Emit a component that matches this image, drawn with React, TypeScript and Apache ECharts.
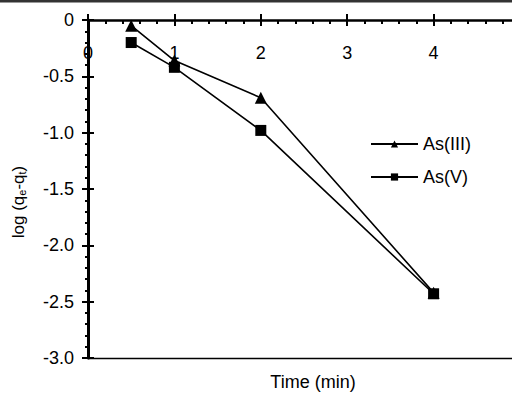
import React, { useEffect, useRef } from "react";
import * as echarts from "echarts";

const timeMin = [0.5, 1, 2, 4];
const asIII = [-0.05, -0.36, -0.69, -2.42];
const asV = [-0.2, -0.42, -0.98, -2.43];
const seriesNames = ["As(III)", "As(V)"];

const FONT = "Liberation Sans, Arial, sans-serif";
const FS = 18;

export default function App() {
  const ref = useRef<HTMLDivElement>(null);

  useEffect(() => {
    document.body.style.margin = "0";
    const chart = echarts.init(ref.current!, null, { renderer: "svg" });
    const black = "#000";
    const pts = (ys: number[]) => timeMin.map((t, i) => [t, ys[i]]);

    chart.setOption({
      animation: false,
      backgroundColor: "#fff",
      textStyle: { fontFamily: FONT },
      grid: { left: 88, top: 20, right: -8, bottom: 36, outerBoundsMode: "none", containLabel: false },
      legend: {
        orient: "vertical",
        left: 370,
        top: 135,
        padding: 0,
        itemWidth: 47,
        itemHeight: 9,
        itemGap: 15,
        data: seriesNames,
        textStyle: { fontSize: FS, color: black, fontFamily: FONT },
      },
      xAxis: [
        {
          type: "value",
          position: "top",
          min: 0,
          max: 5,
          interval: 1,
          axisLine: { show: true, onZero: false, lineStyle: { color: black, width: 2.5 } },
          axisTick: { show: true, inside: false, length: 6, lineStyle: { color: black, width: 2 } },
          minorTick: { show: false },
          splitLine: { show: false },
          axisLabel: {
            inside: true,
            margin: 24,
            fontSize: FS,
            color: black,
            fontFamily: FONT,
            showMaxLabel: false,
          },
          z: 1,
        },
        {
          type: "value",
          position: "top",
          min: 0,
          max: 5,
          interval: 1,
          axisLine: { show: false },
          axisTick: { show: true, inside: true, length: 6, lineStyle: { color: black, width: 2 } },
          minorTick: { show: true, splitNumber: 5, length: 4, lineStyle: { color: black, width: 2 } },
          splitLine: { show: false },
          axisLabel: { show: false },
        },
        {
          type: "value",
          position: "bottom",
          min: 0,
          max: 5,
          axisLine: { show: true, onZero: false, lineStyle: { color: black, width: 1.3 } },
          axisTick: { show: false },
          splitLine: { show: false },
          axisLabel: { show: false },
        },
      ],
      yAxis: [
        {
          type: "value",
          min: -3,
          max: 0,
          interval: 0.5,
          axisLine: { show: true, onZero: false, lineStyle: { color: black, width: 3 } },
          axisTick: { show: true, inside: false, length: 6, lineStyle: { color: black, width: 2 } },
          minorTick: { show: true, splitNumber: 5, length: 3, lineStyle: { color: black, width: 2 } },
          splitLine: { show: false },
          axisLabel: {
            margin: 14,
            fontSize: FS,
            color: black,
            fontFamily: FONT,
            formatter: (v: number) => (v === 0 ? "0" : v.toFixed(1)),
          },
          z: 2,
        },
        {
          type: "value",
          position: "left",
          min: -3,
          max: 0,
          interval: 0.5,
          axisLine: { show: false },
          axisTick: { show: true, inside: true, length: 6, lineStyle: { color: black, width: 2 } },
          minorTick: { show: true, splitNumber: 5, length: 2, lineStyle: { color: black, width: 2 } },
          splitLine: { show: false },
          axisLabel: { show: false },
        },
      ],
      graphic: [
        { type: "rect", shape: { x: 0, y: 0, width: 512, height: 2.5 }, style: { fill: "#333" } },
        {
          type: "text",
          x: 313,
          y: 382,
          style: {
            text: "Time (min)",
            fontSize: FS,
            fontFamily: FONT,
            fill: black,
            align: "center",
            verticalAlign: "middle",
          },
        },
        {
          type: "text",
          x: 18,
          y: 202,
          rotation: Math.PI / 2,
          style: {
            text: "log (q{sub|e}-q{sub|t})",
            fontSize: 17,
            fontFamily: FONT,
            fill: black,
            align: "center",
            verticalAlign: "middle",
            rich: {
              sub: { fontSize: 11, fontFamily: FONT, fill: black, padding: [8, 0, 0, 0] },
            },
          },
        },
      ],
      series: [
        {
          name: seriesNames[0],
          type: "line",
          xAxisIndex: 0,
          yAxisIndex: 0,
          data: pts(asIII),
          symbol: "triangle",
          symbolSize: 12,
          lineStyle: { color: black, width: 1.6 },
          itemStyle: { color: black },
          z: 3,
        },
        {
          name: seriesNames[1],
          type: "line",
          xAxisIndex: 0,
          yAxisIndex: 0,
          data: pts(asV),
          symbol: "rect",
          symbolSize: 11,
          lineStyle: { color: black, width: 1.6 },
          itemStyle: { color: black },
          z: 4,
        },
      ],
    });
    return () => chart.dispose();
  }, []);

  return <div ref={ref} style={{ width: 512, height: 394 }} />;
}
